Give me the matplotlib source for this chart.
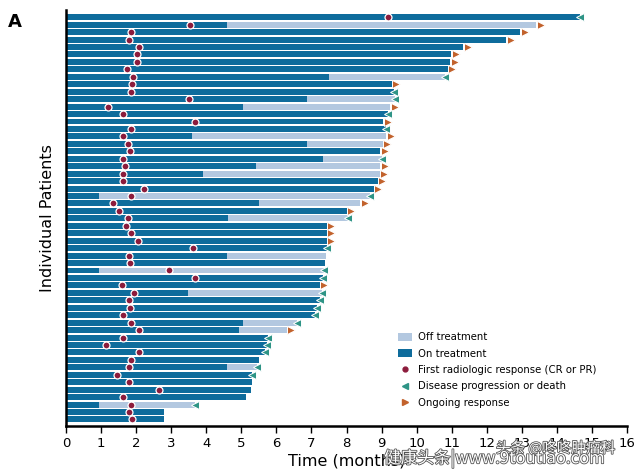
import matplotlib
matplotlib.use("Agg")
import matplotlib.pyplot as plt
import matplotlib.patheffects as pe
from matplotlib.patches import Patch
from matplotlib.lines import Line2D

# ---- data (rows from top to bottom) ----
on_end = [14.65, 4.58, 12.95, 12.55, 11.33, 10.98, 10.95, 10.88, 7.5, 9.29,
          9.34, 6.86, 5.06, 9.18, 9.05, 9.13, 3.6, 6.87, 8.96, 7.34,
          5.42, 3.9, 8.89, 8.78, 0.93, 5.5, 8.0, 4.61, 7.43, 7.43,
          7.43, 7.43, 4.58, 7.39, 0.93, 7.34, 7.23, 3.47, 7.23, 7.17,
          7.1, 5.06, 4.94, 5.77, 5.74, 5.68, 5.49, 4.58, 5.3, 5.3,
          5.28, 5.12, 0.93, 2.79, 2.79]
total_end = [14.65, 13.4, 12.95, 12.55, 11.33, 10.98, 10.95, 10.88, 10.81, 9.29,
             9.34, 9.37, 9.24, 9.18, 9.05, 9.13, 9.13, 9.03, 8.96, 9.0,
             8.96, 8.94, 8.89, 8.78, 8.67, 8.39, 8.0, 8.03, 7.43, 7.43,
             7.43, 7.43, 7.42, 7.39, 7.36, 7.34, 7.23, 7.29, 7.23, 7.17,
             7.1, 6.6, 6.29, 5.77, 5.74, 5.68, 5.49, 5.44, 5.3, 5.3,
             5.28, 5.12, 3.68, 2.79, 2.79]
response = [9.18, 3.54, 1.85, 1.80, 2.08, 2.03, 2.03, 1.73, 1.91, 1.89,
            1.85, 3.51, 1.21, 1.64, 3.68, 1.85, 1.64, 1.76, 1.83, 1.64,
            1.67, 1.64, 1.64, 2.22, 1.85, 1.33, 1.5, 1.76, 1.70, 1.85,
            2.06, 3.63, 1.8, 1.83, 2.94, 3.68, 1.6, 1.94, 1.8, 1.83,
            1.63, 1.85, 2.08, 1.63, 1.15, 2.08, 1.85, 1.8, 1.45, 1.8,
            2.64, 1.63, 1.85, 1.8, 1.88]
end_event = ['prog', 'ong', 'ong', 'ong', 'ong', 'ong', 'ong', 'ong', 'prog', 'ong',
             'prog', 'prog', 'ong', 'prog', 'ong', 'prog', 'ong', 'ong', 'ong', 'prog',
             'ong', 'ong', 'ong', 'ong', 'prog', 'ong', 'ong', 'prog', 'ong', 'ong',
             'ong', 'prog', '', '', 'prog', 'prog', 'ong', 'prog', 'prog', 'prog',
             'prog', 'prog', 'ong', 'prog', 'prog', 'prog', '', 'prog', 'prog', '',
             '', '', 'prog', '', '']
x_ticks = list(range(0, 17))

# ---- style ----
C_ON = '#0e6c9c'
C_OFF = '#b3c8e0'
C_DOT = '#8c1c3c'
C_PROG = '#2e9486'
C_ONG = '#c2622c'

fig = plt.figure(figsize=(6.4, 4.73), dpi=100)
ax = fig.add_axes([0.103, 0.099, 0.877, 0.880])

n = len(on_end)
ys = list(range(n))
off_len = [t - o for t, o in zip(total_end, on_end)]
ax.barh(ys, on_end, height=0.8, color=C_ON, edgecolor='none', zorder=2)
ax.barh(ys, off_len, left=on_end, height=0.8, color=C_OFF, edgecolor='none', zorder=2)

ax.plot(response, ys, 'o', ms=5, color=C_DOT, mec='white', mew=0.9, zorder=4, linestyle='none')

for y, t, e in zip(ys, total_end, end_event):
    if e == 'prog':
        ax.plot([t], [y], marker='<', ms=5.5, color=C_PROG, mec='white', mew=0.7, zorder=4)
    elif e == 'ong':
        ax.plot([t + 0.13], [y], marker='>', ms=5.5, color=C_ONG, mec='white', mew=0.7, zorder=4)

ax.set_xlim(0, 16)
ax.set_ylim(54.9, -0.98)
ax.set_xticks(x_ticks)
ax.set_xticklabels([str(v) for v in x_ticks], fontsize=9.5)
ax.set_yticks([])
for s in ['top', 'right']:
    ax.spines[s].set_visible(False)
ax.spines['left'].set_linewidth(1.8)
ax.spines['bottom'].set_linewidth(1.8)
ax.tick_params(axis='x', length=5, width=1, direction='out', pad=3)
ax.set_xlabel('Time (months)', fontsize=11.5, labelpad=2)
ax.set_ylabel('Individual Patients', fontsize=11.5, labelpad=8)

handles = [
    Patch(facecolor=C_OFF, edgecolor='none', label='Off treatment'),
    Patch(facecolor=C_ON, edgecolor='none', label='On treatment'),
    Line2D([], [], marker='o', ms=3.5, color=C_DOT, linestyle='none',
           label='First radiologic response (CR or PR)'),
    Line2D([], [], marker='<', ms=4, color=C_PROG, linestyle='none',
           label='Disease progression or death'),
    Line2D([], [], marker='>', ms=4, color=C_ONG, linestyle='none',
           label='Ongoing response'),
]
ax.legend(handles=handles, loc='upper left', bbox_to_anchor=(0.585, 0.235),
          frameon=False, fontsize=7.3, handlelength=1.3, handleheight=0.8,
          handletextpad=0.6, labelspacing=0.62, borderaxespad=0)

fig.text(0.012, 0.972, 'A', fontsize=13, fontweight='bold', va='top', ha='left')

# watermark
wm = [pe.withStroke(linewidth=1.2, foreground='#555555')]
fig.text(0.775, 0.052, '头条 @咚咚肿瘤科', fontsize=10.5, color='white',
         family=['Noto Sans CJK SC', 'DejaVu Sans'], path_effects=wm, ha='left', va='center')
fig.text(0.6, 0.01, '健康头条|www.9toutiao.com', fontsize=12, color='white',
         family=['Noto Sans CJK SC', 'DejaVu Sans'], path_effects=wm, ha='left', va='bottom')

fig.savefig('out.png', dpi=100)
